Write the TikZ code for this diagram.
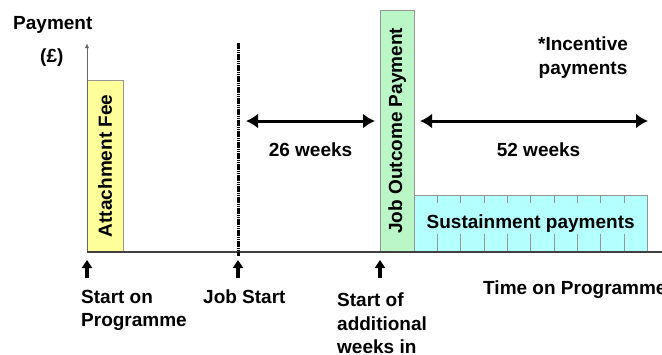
\documentclass[tikz,border=0pt]{standalone}
\usepackage{fontspec}
\setmainfont{Liberation Sans}
\usetikzlibrary{positioning,calc,arrows.meta}
\definecolor{feeyellow}{RGB}{255,255,153}
\definecolor{jobgreen}{RGB}{186,246,198}
\definecolor{sustcyan}{RGB}{180,255,255}
\definecolor{edgegray}{RGB}{150,150,150}
\tikzstyle{bar} = [draw=edgegray, rectangle, inner sep=0pt]
\tikzstyle{txt} = [inner sep=0pt, align=left]
\tikzstyle{axis} = [draw=black!75, line width=1.5pt]
\tikzstyle{span} = [line width=3pt, {Latex[length=12pt,width=15pt]}-{Latex[length=12pt,width=15pt]}]
\tikzstyle{uparrow} = [line width=3.5pt, -{Triangle[length=8pt,width=10pt]}]
\tikzstyle{jobline} = [line width=3pt, dash pattern=on 1.5pt off 0.7pt]

\begin{document}
\begin{tikzpicture}[x=1pt, y=-1pt, font=\fontsize{19}{23.5}\selectfont\bfseries]
    \useasboundingbox (0,0) rectangle (662,354);

    \coordinate (origin) at (87,252);
    \coordinate (ytop) at (87,43);
    \coordinate (xend) at (662,252);
    \coordinate (jobstart) at (238,252);
    \coordinate (jobtop) at (238,43);
    \coordinate (extra) at (380,252);

    \node [txt, anchor=north west] (ylabel) at (13,16) {Payment};
    \node [txt, anchor=north west] (unit) at (40,49) {(£)};

    % payment bars
    \node [bar, fill=feeyellow, rotate=90, anchor=north west, minimum width=172pt, minimum height=36pt] (fee) at (origin) {Attachment Fee};
    \node [bar, fill=jobgreen, rotate=90, anchor=north west, minimum width=242pt, minimum height=34pt] (job) at (extra) {Job Outcome Payment};
    \node [bar, fill=sustcyan, anchor=south west, minimum width=233pt, minimum height=57pt] (sust) at (414,252) {Sustainment payments};
    \foreach \i in {1,...,9} {
        \draw [edgegray] ($(sust.north west)+(23.3*\i,0)$) -- ++(0,8);
        \draw [edgegray] ($(sust.south west)+(23.3*\i,0)$) -- ++(0,-18);
    }

    \draw [axis, draw=black!60, line width=1pt, -{Latex[length=5pt,width=4pt]}] (origin) -- (ytop);
    \draw [axis] (origin) -- (xend);
    \draw [jobline] (jobtop) -- ($(jobstart)+(0,4)$);

    % weeks
    \coordinate (s26) at (246,121);
    \coordinate (e26) at (375,121);
    \draw [span] (s26) -- node [below=17pt] {26 weeks} (e26);
    \coordinate (s52) at (420,121);
    \coordinate (e52) at (648,121);
    \draw [span] (s52) -- node [pos=0.52, below=17pt] {52 weeks} (e52);

    \node [txt, align=center, anchor=north] (incentive) at (583,37) {*Incentive\\payments};

    % time markers
    \draw [uparrow] ($(origin)+(0,26)$) -- ($(origin)+(0,8)$);
    \draw [uparrow] ($(jobstart)+(0,26)$) -- ($(jobstart)+(0,8)$);
    \draw [uparrow] ($(extra)+(0,26)$) -- ($(extra)+(0,8)$);

    \node [txt, anchor=north west] (startprog) at (81,290) {Start on\\Programme};
    \node [txt, anchor=north west] (startjob) at (203,290) {Job Start};
    \node [txt, anchor=north west] (startadd) at (337,293) {Start of\\additional\\weeks in};
    \node [txt, anchor=north west] (timeprog) at (483,281) {Time on Programme};
\end{tikzpicture}
\end{document}
